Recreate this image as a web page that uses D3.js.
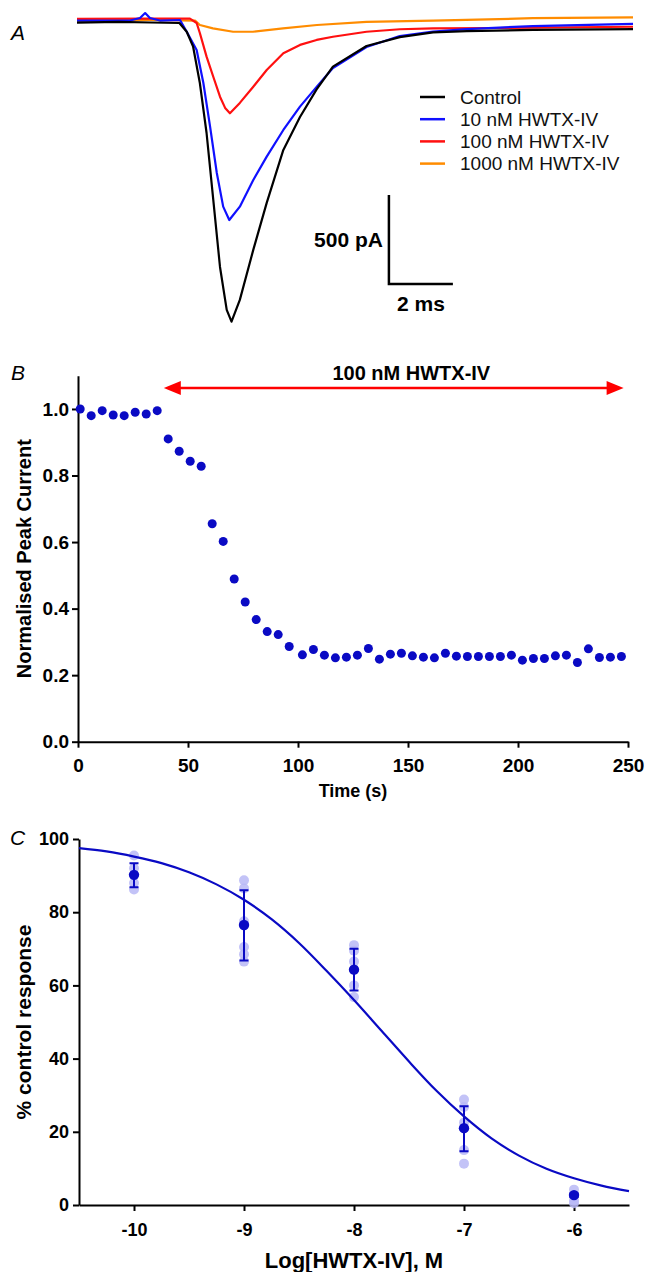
<!DOCTYPE html>
<html>
<head>
<meta charset="utf-8">
<script src="https://cdn.jsdelivr.net/npm/d3@7"></script>
<style>
  body { margin: 0; background: #fff; }
  text { font-family: "Liberation Sans", Arial, sans-serif; }
</style>
</head>
<body>
<div id="fig"></div>
<script>
var svgWidth = 645;
var svgHeight = 1272;

// ---- Panel A: current traces, [time (ms), current (pA)] ----
var traceNames = ["Control", "10 nM HWTX-IV", "100 nM HWTX-IV", "1000 nM HWTX-IV"];
var traceColors = ["#000000", "#1010ff", "#ff1010", "#ff8c00"];

var controlTrace = [[0, -15], [1.3, -11], [2.3, -14], [3.2, -17], [3.43, -66], [3.63, -150],
  [3.84, -354], [4.05, -635], [4.26, -1011], [4.47, -1388], [4.68, -1629], [4.83, -1695],
  [5.09, -1573], [5.51, -1292], [5.93, -1028], [6.45, -730], [6.97, -545], [7.49, -390],
  [8.0, -262], [9.05, -146], [10.09, -96], [11.13, -70], [12.18, -62], [14.25, -56], [17.38, -51]];

var nM10Trace = [[0, -4], [1.66, -3], [1.97, 11], [2.13, 39], [2.28, 11], [2.59, -3], [3.22, 0],
  [3.43, -66], [3.74, -169], [3.95, -354], [4.16, -599], [4.37, -860], [4.57, -1049],
  [4.76, -1124], [5.09, -1049], [5.51, -899], [5.93, -768], [6.45, -618], [6.97, -487],
  [7.49, -376], [8.0, -270], [9.05, -152], [10.09, -90], [11.13, -65], [12.18, -51],
  [14.25, -34], [17.38, -22]];

var nM100Trace = [[0, 6], [2.28, 8], [3.53, 8], [3.74, -17], [3.84, -73], [4.05, -206],
  [4.26, -319], [4.47, -431], [4.63, -494], [4.78, -524], [5.09, -466], [5.51, -375],
  [5.93, -281], [6.45, -187], [6.97, -140], [7.49, -112], [8.0, -94], [9.05, -66],
  [10.09, -52], [11.13, -47], [13.22, -45], [17.38, -38]];

var nM1000Trace = [[0, -3], [2.28, 0], [3.69, -3], [3.84, -28], [4.25, -47], [4.88, -66],
  [5.5, -66], [6.44, -47], [7.5, -28], [9.05, -10], [11.13, -4], [14.25, 10], [17.38, 15]];

var traces = [controlTrace, nM10Trace, nM100Trace, nM1000Trace];

// ---- Panel B: time course ----
var bTime = [1, 6, 11, 16, 21, 26, 31, 36, 41, 46, 51, 56, 61, 66, 71, 76, 81, 86, 91, 96,
  102, 107, 112, 117, 122, 127, 132, 137, 142, 147, 152, 157, 162, 167, 172, 177, 182, 187,
  192, 197, 202, 207, 212, 217, 222, 227, 232, 237, 242, 247];
var bCurrent = [1.0, 0.98, 0.995, 0.982, 0.98, 0.99, 0.985, 0.995, 0.91, 0.873, 0.843, 0.828,
  0.655, 0.602, 0.489, 0.42, 0.367, 0.331, 0.322, 0.286, 0.261, 0.277, 0.26, 0.252, 0.254,
  0.26, 0.28, 0.248, 0.263, 0.266, 0.258, 0.254, 0.252, 0.266, 0.257, 0.256, 0.256, 0.256,
  0.256, 0.26, 0.245, 0.25, 0.25, 0.258, 0.26, 0.238, 0.279, 0.253, 0.254, 0.256];
var bXTicks = [0, 50, 100, 150, 200, 250];
var bYTicks = [0, 0.2, 0.4, 0.6, 0.8, 1.0];
var drugStart = 39;
var drugEnd = 248;

// ---- Panel C: concentration-response ----
var cLogConc = [-10, -9, -8, -7, -6];
var cMean = [90.2, 76.5, 64.3, 21, 2.7];
var cErrLow = [86.8, 66.8, 58.6, 14.7, 2.2];
var cErrHigh = [93.4, 86, 70, 27, 3.2];
var cIndividual = [
  [95.5, 92, 88, 86.2],
  [88.7, 86.5, 77.5, 70.5, 68.5, 66.5],
  [71, 69.5, 66.5, 60, 56.8],
  [28.8, 26.8, 22.5, 15, 11.3],
  [4.2, 2.5, 1.2, 0.5]
];
var fitX = [-10.5, -10.25, -10, -9.75, -9.5, -9.25, -9, -8.75, -8.5, -8.25, -8, -7.75,
  -7.5, -7.25, -7, -6.75, -6.5, -6.25, -6, -5.75, -5.5];
var fitY = [97.5, 96.6, 95.2, 93.4, 90.9, 87.6, 83.4, 78.1, 71.6, 64.0, 56.0, 47.6,
  39.2, 31.2, 24.2, 18.2, 13.5, 9.9, 7.3, 5.3, 3.8];
var cXTicks = [-10, -9, -8, -7, -6];
var cYTicks = [0, 20, 40, 60, 80, 100];

var svg = d3.select("#fig")
  .append("svg")
  .attr("width", svgWidth)
  .attr("height", svgHeight);

var dotBlue = "#0a0ac4";
var fontStack = '"Liberation Sans", Arial, sans-serif';

// ================= Panel A =================
var aX = d3.scaleLinear().domain([0, 17.38]).range([77, 633]);
var aY = d3.scaleLinear().domain([0, -1700]).range([20, 322.5]);

var line = d3.line()
  .x(d => aX(d[0]))
  .y(d => aY(d[1]));

var aGroup = svg.append("g");

// draw orange first so black sits on top at baseline like the original
[3, 2, 1, 0].forEach(function(i) {
  aGroup.append("path")
    .datum(traces[i])
    .attr("d", line)
    .attr("fill", "none")
    .attr("stroke", traceColors[i])
    .attr("stroke-width", 2.2)
    .attr("stroke-linejoin", "round");
});

svg.append("text")
  .attr("x", 11)
  .attr("y", 40)
  .attr("font-size", 21)
  .attr("font-style", "italic")
  .text("A");

// legend
var legend = aGroup.append("g").attr("transform", "translate(420, 97)");
traceNames.forEach(function(name, i) {
  legend.append("line")
    .attr("x1", 0).attr("x2", 25)
    .attr("y1", i * 22.2).attr("y2", i * 22.2)
    .attr("stroke", traceColors[i])
    .attr("stroke-width", 2.5);
  legend.append("text")
    .attr("x", 40)
    .attr("y", i * 22.2 + 6.5)
    .attr("font-size", 19)
    .attr("fill", "#111")
    .text(name);
});

// scale bar (500 pA, 2 ms)
var sbT = 9.75, sbI = -1483;
aGroup.append("path")
  .attr("d", `M${aX(sbT)},${aY(sbI + 500)}V${aY(sbI)}H${aX(sbT + 2)}`)
  .attr("fill", "none")
  .attr("stroke", "#000")
  .attr("stroke-width", 2.5);
aGroup.append("text")
  .attr("x", aX(sbT) - 6)
  .attr("y", (aY(sbI + 500) + aY(sbI)) / 2 + 8)
  .attr("text-anchor", "end")
  .attr("font-size", 21)
  .attr("font-weight", "bold")
  .text("500 pA");
aGroup.append("text")
  .attr("x", aX(sbT + 1))
  .attr("y", aY(sbI) + 27)
  .attr("text-anchor", "middle")
  .attr("font-size", 21)
  .attr("font-weight", "bold")
  .text("2 ms");

// ================= Panel B =================
var bX = d3.scaleLinear().domain([0, 250]).range([78, 628]);
var bY = d3.scaleLinear().domain([0, 1.1]).range([741.7, 375.7]);

var bGroup = svg.append("g");

var bxAxis = bGroup.append("g")
  .attr("transform", `translate(0, ${bY(0)})`)
  .call(d3.axisBottom(bX).tickValues(bXTicks).tickSize(6).tickSizeOuter(0).tickPadding(11));

var byAxis = bGroup.append("g")
  .attr("transform", `translate(${bX(0)}, 0)`)
  .call(d3.axisLeft(bY).tickValues(bYTicks).tickFormat(d3.format(".1f")).tickSize(6).tickSizeOuter(0).tickPadding(3));

[bxAxis, byAxis].forEach(function(ax) {
  ax.selectAll("path, line").attr("stroke", "#000").attr("stroke-width", 2);
  ax.selectAll("text")
    .attr("font-size", 19)
    .attr("font-weight", "bold")
    .attr("fill", "#000")
    .style("font-family", fontStack);
});

bGroup.selectAll("circle")
  .data(bTime)
  .enter()
  .append("circle")
  .attr("cx", d => bX(d))
  .attr("cy", (d, i) => bY(bCurrent[i]))
  .attr("r", 4.5)
  .attr("fill", dotBlue);

// drug application arrow
var arrowY = bY(1.063);
bGroup.append("line")
  .attr("x1", bX(drugStart) + 10)
  .attr("x2", bX(drugEnd) - 10)
  .attr("y1", arrowY).attr("y2", arrowY)
  .attr("stroke", "#ff0000")
  .attr("stroke-width", 2.5);
bGroup.append("path")
  .attr("d", `M${bX(drugStart)},${arrowY}l17,-7v14z`)
  .attr("fill", "#ff0000");
bGroup.append("path")
  .attr("d", `M${bX(drugEnd)},${arrowY}l-17,-7v14z`)
  .attr("fill", "#ff0000");
bGroup.append("text")
  .attr("x", bX((drugStart + drugEnd) / 2 + 8))
  .attr("y", arrowY - 8)
  .attr("text-anchor", "middle")
  .attr("font-size", 20)
  .attr("font-weight", "bold")
  .text("100 nM HWTX-IV");

bGroup.append("text")
  .attr("transform", `translate(31, ${(bY(0) + bY(1.1)) / 2}) rotate(-90)`)
  .attr("text-anchor", "middle")
  .attr("font-size", 20)
  .attr("font-weight", "bold")
  .text("Normalised Peak Current");

bGroup.append("text")
  .attr("x", (bX(0) + bX(250)) / 2)
  .attr("y", 797)
  .attr("text-anchor", "middle")
  .attr("font-size", 18)
  .attr("font-weight", "bold")
  .text("Time (s)");

svg.append("text")
  .attr("x", 11)
  .attr("y", 380)
  .attr("font-size", 21)
  .attr("font-style", "italic")
  .text("B");

// ================= Panel C =================
var cX = d3.scaleLinear().domain([-10.5, -5.5]).range([79, 629]);
var cY = d3.scaleLinear().domain([0, 100]).range([1205, 839]);

var cGroup = svg.append("g");

var cxAxis = cGroup.append("g")
  .attr("transform", `translate(0, ${cY(0)})`)
  .call(d3.axisBottom(cX).tickValues(cXTicks).tickFormat(d => String(d)).tickSize(6).tickSizeOuter(0).tickPadding(12));

var cyAxis = cGroup.append("g")
  .attr("transform", `translate(${cX(-10.5)}, 0)`)
  .call(d3.axisLeft(cY).tickValues(cYTicks).tickSize(6).tickSizeOuter(0).tickPadding(4));

[cxAxis, cyAxis].forEach(function(ax) {
  ax.selectAll("path, line").attr("stroke", "#000").attr("stroke-width", 2);
  ax.selectAll("text")
    .attr("font-size", 18)
    .attr("font-weight", "bold")
    .attr("fill", "#000")
    .style("font-family", fontStack);
});

// individual replicates
cLogConc.forEach(function(c, i) {
  cGroup.selectAll(null)
    .data(cIndividual[i])
    .enter()
    .append("circle")
    .attr("cx", cX(c))
    .attr("cy", d => cY(d))
    .attr("r", 5)
    .attr("fill", "#b9b9f6")
    .attr("opacity", 0.85);
});

// fitted curve
var fitLine = d3.line()
  .x((d, i) => cX(fitX[i]))
  .y(d => cY(d))
  .curve(d3.curveMonotoneX);

cGroup.append("path")
  .datum(fitY)
  .attr("d", fitLine)
  .attr("fill", "none")
  .attr("stroke", dotBlue)
  .attr("stroke-width", 2.2);

// error bars
cLogConc.forEach(function(c, i) {
  var x = cX(c);
  cGroup.append("path")
    .attr("d", `M${x - 4.5},${cY(cErrHigh[i])}h9M${x},${cY(cErrHigh[i])}V${cY(cErrLow[i])}M${x - 4.5},${cY(cErrLow[i])}h9`)
    .attr("fill", "none")
    .attr("stroke", dotBlue)
    .attr("stroke-width", 2);
});

cGroup.selectAll(".mean")
  .data(cMean)
  .enter()
  .append("circle")
  .attr("class", "mean")
  .attr("cx", (d, i) => cX(cLogConc[i]))
  .attr("cy", d => cY(d))
  .attr("r", 5.2)
  .attr("fill", dotBlue);

cGroup.append("text")
  .attr("transform", `translate(31, ${(cY(0) + cY(100)) / 2}) rotate(-90)`)
  .attr("text-anchor", "middle")
  .attr("font-size", 21)
  .attr("font-weight", "bold")
  .text("% control response");

cGroup.append("text")
  .attr("x", (cX(-10.5) + cX(-5.5)) / 2)
  .attr("y", 1268)
  .attr("text-anchor", "middle")
  .attr("font-size", 22)
  .attr("font-weight", "bold")
  .text("Log[HWTX-IV], M");

svg.append("text")
  .attr("x", 10)
  .attr("y", 845)
  .attr("font-size", 21)
  .attr("font-style", "italic")
  .text("C");
</script>
</body>
</html>
